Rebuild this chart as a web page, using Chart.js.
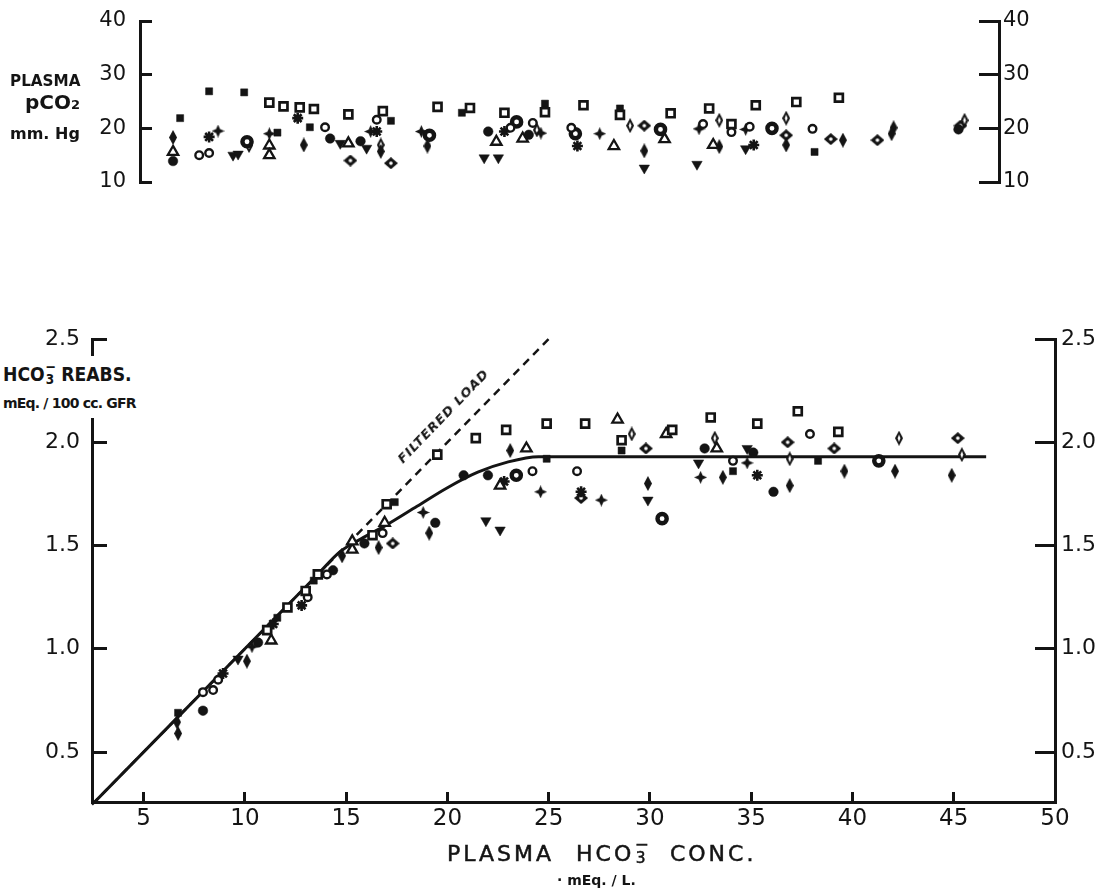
<!DOCTYPE html>
<html>
<head>
<meta charset="utf-8">
<script src="https://cdn.jsdelivr.net/npm/chart.js@4.4.1/dist/chart.umd.min.js"></script>
<style>
html,body{margin:0;padding:0;background:#fff;}
body{width:1098px;height:893px;position:relative;overflow:hidden;font-family:"DejaVu Sans","Liberation Sans",sans-serif;color:#141414;}
#c1{position:absolute;left:0;top:0;}
#c2{position:absolute;left:0;top:300px;}
.lbl{position:absolute;white-space:nowrap;font-weight:bold;line-height:1;}
.ss{display:inline-block;position:relative;width:0.62em;height:1em;vertical-align:baseline;}
.ss .sp{position:absolute;left:0.05em;top:-0.1em;font-size:0.75em;}
.ss .sb{position:absolute;left:0.1em;top:0.78em;font-size:0.7em;}
</style>
</head>
<body>
<canvas id="c1" width="1098" height="210"></canvas>
<canvas id="c2" width="1098" height="593"></canvas>

<div class="lbl" style="left:10px;top:73px;font-size:16px;transform:scaleX(0.95);transform-origin:left top;">PLASMA</div>
<div class="lbl" style="left:25px;top:92px;font-size:20px;">pCO<span style="font-size:13px;">2</span></div>
<div class="lbl" style="left:10px;top:126px;font-size:16px;">mm. Hg</div>

<div style="position:absolute;left:0;top:356px;width:178px;height:62px;background:#fff;"></div>
<div class="lbl" style="left:3px;top:361px;font-size:20px;transform:scaleX(0.86);transform-origin:left top;">HCO<span class="ss"><span class="sp">−</span><span class="sb">3</span></span>&nbsp;REABS.</div>
<div class="lbl" style="left:3px;top:396px;font-size:14px;letter-spacing:-0.8px;">mEq. / 100 cc. GFR</div>

<div class="lbl" style="left:443px;top:416px;font-size:13px;font-style:italic;letter-spacing:1px;transform:translate(-50%,-50%) rotate(-46deg);">FILTERED LOAD</div>

<div class="lbl" style="left:447px;top:839px;font-size:22px;font-weight:normal;letter-spacing:3px;word-spacing:12px;-webkit-text-stroke:0.5px #141414;">PLASMA HCO<span class="ss"><span class="sp">−</span><span class="sb">3</span></span> CONC.</div>
<div class="lbl" style="left:557px;top:873px;font-size:14px;">· mEq. / L.</div>

<script>
// ---------- tick values ----------
const hco3Ticks = [5, 10, 15, 20, 25, 30, 35, 40, 45, 50];
const reabsTicks = [0.5, 1.0, 1.5, 2.0, 2.5];
const reabsTickLabels = ['0.5', '1.0', '1.5', '2.0', '2.5'];
const pco2Ticks = [10, 20, 30, 40];
const pco2TickLabels = ['10', '20', '30', '40'];

// ---------- bottom panel: HCO3 reabsorption (mEq/100 cc GFR) vs plasma HCO3 ----------
const reabsOpenSquare = [[11.1,1.09],[12.1,1.20],[13.0,1.28],[13.6,1.36],[16.3,1.55],[17.0,1.70],[19.5,1.94],[21.4,2.02],[22.9,2.06],[24.9,2.09],[26.8,2.09],[28.6,2.01],[31.1,2.06],[33.0,2.12],[35.3,2.09],[37.3,2.15],[39.3,2.05]];
const reabsFilledSquare = [[6.7,0.69],[11.6,1.15],[13.4,1.33],[17.4,1.71],[24.9,1.92],[28.6,1.96],[34.1,1.86],[38.3,1.91]];
const reabsOpenCircle = [[7.93,0.79],[8.43,0.80],[8.68,0.85],[13.1,1.25],[14.05,1.36],[16.8,1.56],[24.2,1.86],[26.4,1.86],[34.1,1.91],[37.9,2.04]];
const reabsFilledCircle = [[7.93,0.70],[10.65,1.03],[14.35,1.38],[15.9,1.51],[19.4,1.61],[20.8,1.84],[22.0,1.84],[32.7,1.97],[35.1,1.95],[36.1,1.76]];
const reabsRingDot = [[23.4,1.84],[30.6,1.63],[41.3,1.91]];
const reabsOpenTriangle = [[11.3,1.04],[15.3,1.48],[15.3,1.52],[16.9,1.61],[22.6,1.79],[23.9,1.97],[28.4,2.11],[30.8,2.04],[33.3,1.97]];
const reabsTriangleDown = [[9.66,0.95],[21.9,1.62],[22.6,1.575],[29.9,1.72],[32.4,1.90],[34.8,1.97]];
const reabsPlus = [[10.35,1.01],[18.8,1.66],[24.6,1.76],[27.6,1.72],[32.5,1.83],[34.8,1.90]];
const reabsStar = [[8.92,0.88],[11.4,1.12],[12.8,1.21],[22.8,1.81],[26.6,1.76],[35.3,1.84]];
const reabsLozenge = [[6.65,0.645],[6.7,0.59],[10.1,0.94],[14.8,1.45],[16.6,1.49],[19.1,1.56],[23.1,1.96],[29.9,1.80],[33.6,1.83],[36.9,1.79],[39.6,1.86],[42.1,1.86],[44.9,1.84]];
const reabsOpenLozenge = [[29.1,2.04],[33.2,2.02],[36.9,1.92],[42.3,2.02],[45.4,1.94]];
const reabsDiamondDot = [[17.3,1.51],[26.6,1.73],[29.8,1.97],[36.8,2.00],[39.1,1.97],[45.2,2.02]];

// titration curve (solid) and filtered load (dashed)
const reabsCurveX = [2.45, 6.0, 10.0, 13.5, 14.7, 15.6, 17.0, 18.5, 20.0, 21.5, 23.0, 24.5, 46.6];
const reabsCurveY = [0.245, 0.60, 1.00, 1.35, 1.47, 1.525, 1.60, 1.69, 1.78, 1.855, 1.905, 1.93, 1.93];
const filteredLoadX = [2.45, 25.0];
const filteredLoadY = [0.245, 2.5];

// ---------- top panel: plasma pCO2 (mm Hg) vs plasma HCO3 ----------
const pco2OpenSquare = [[11.2,24.8],[11.9,24.1],[12.7,23.9],[13.4,23.6],[15.1,22.6],[16.8,23.2],[19.5,24.0],[21.1,23.8],[22.8,22.9],[24.8,23.0],[26.7,24.3],[28.5,22.5],[31.0,22.8],[32.9,23.7],[34.0,20.8],[35.2,24.3],[37.2,24.9],[39.3,25.7]];
const pco2FilledSquare = [[6.8,21.9],[8.23,26.9],[9.96,26.7],[11.6,19.2],[13.2,20.2],[17.2,21.4],[20.7,22.9],[24.8,24.6],[28.5,23.7],[38.1,15.6]];
const pco2OpenCircle = [[7.74,15.0],[8.23,15.4],[13.95,20.2],[16.5,21.6],[23.1,20.1],[24.2,21.0],[26.1,20.1],[32.6,20.8],[34.9,20.3],[38.0,19.9],[34.0,19.3]];
const pco2FilledCircle = [[6.45,13.9],[14.2,18.1],[15.7,17.6],[22.0,19.4],[24.0,18.8],[45.2,19.8]];
const pco2RingDot = [[10.1,17.5],[19.1,18.7],[23.4,21.2],[26.3,19.0],[30.5,19.8],[36.0,20.0]];
const pco2OpenTriangle = [[6.45,15.6],[11.2,16.8],[11.2,15.0],[15.1,17.2],[22.4,17.5],[23.7,18.1],[28.2,16.7],[30.7,18.0],[33.1,16.9]];
const pco2TriangleDown = [[9.41,15.0],[9.66,15.2],[14.7,17.2],[16.0,16.3],[21.8,14.5],[22.5,14.5],[29.7,12.6],[32.3,13.3],[34.7,16.2]];
const pco2Plus = [[8.67,19.5],[11.2,19.0],[16.2,19.4],[18.7,19.4],[24.6,19.1],[27.5,19.0],[32.4,19.9],[34.7,19.8]];
const pco2Star = [[8.23,18.4],[12.6,21.9],[16.5,19.4],[22.8,19.4],[26.4,16.7],[35.1,16.9]];
const pco2Lozenge = [[6.45,18.3],[12.9,16.9],[16.7,15.7],[19.0,16.7],[29.7,15.8],[33.4,16.6],[36.7,16.9],[39.5,17.8],[42.0,20.1],[41.9,19.0]];
const pco2OpenLozenge = [[10.2,16.8],[16.7,16.9],[24.4,19.7],[29.0,20.5],[33.4,21.5],[36.7,21.9],[45.5,21.5]];
const pco2DiamondDot = [[15.2,14.0],[17.2,13.5],[29.7,20.5],[36.7,18.7],[38.9,18.0],[41.2,17.8],[45.3,20.5]];

// ---------- styling ----------
const INK = '#141414';
const FONT = '"DejaVu Sans", "Liberation Sans", sans-serif';

function makeMark(w, h, draw) {
  const c = document.createElement('canvas');
  c.width = w; c.height = h;
  const g = c.getContext('2d');
  g.fillStyle = INK; g.strokeStyle = INK;
  draw(g, w, h);
  return c;
}
function lozPath(g, cx, cy, hw, hh) {
  g.beginPath();
  g.moveTo(cx, cy - hh); g.lineTo(cx + hw, cy); g.lineTo(cx, cy + hh); g.lineTo(cx - hw, cy);
  g.closePath();
}
const lozengeMark = makeMark(8, 15, (g, w, h) => { lozPath(g, w/2, h/2, w/2, h/2); g.fill(); });
const openLozengeMark = makeMark(8, 15, (g, w, h) => {
  lozPath(g, w/2, h/2, w/2, h/2); g.fill();
  g.fillStyle = '#fff'; lozPath(g, w/2, h/2, 1.4, 3.8); g.fill();
});
const diamondDotMark = makeMark(14, 12, (g, w, h) => {
  lozPath(g, w/2, h/2, w/2, h/2); g.fill();
  g.fillStyle = '#fff'; g.beginPath(); g.arc(w/2, h/2, 1.8, 0, Math.PI*2); g.fill();
});
const plusMark = makeMark(13, 13, (g, w, h) => {
  const c = w/2, p = 2.0;
  g.beginPath();
  g.moveTo(c, 0); g.lineTo(c + p, c - p); g.lineTo(w, c); g.lineTo(c + p, c + p);
  g.lineTo(c, h); g.lineTo(c - p, c + p); g.lineTo(0, c); g.lineTo(c - p, c - p);
  g.closePath(); g.fill();
});

const MARKS = {
  openSquare:   {pointStyle: 'rect', pointRadius: 5.6, pointBackgroundColor: '#fff', pointBorderWidth: 2.7},
  filledSquare: {pointStyle: 'rect', pointRadius: 5.0, pointBackgroundColor: INK, pointBorderWidth: 0.5},
  openCircle:   {pointStyle: 'circle', pointRadius: 3.8, pointBackgroundColor: '#fff', pointBorderWidth: 2.4},
  filledCircle: {pointStyle: 'circle', pointRadius: 4.8, pointBackgroundColor: INK, pointBorderWidth: 0.5},
  ringDot:      {pointStyle: 'circle', pointRadius: 4.6, pointBackgroundColor: '#fff', pointBorderWidth: 4.4},
  openTriangle: {pointStyle: 'triangle', pointRadius: 6, pointBackgroundColor: '#fff', pointBorderWidth: 2.3},
  triangleDown: {pointStyle: 'triangle', pointRadius: 6, pointRotation: 180, pointBackgroundColor: INK, pointBorderWidth: 0.5},
  plus:         {pointStyle: plusMark, pointRadius: 6},
  star:         {pointStyle: 'star', pointRadius: 5.5, pointBorderWidth: 2.6, pointBackgroundColor: INK},
  lozenge:      {pointStyle: lozengeMark, pointRadius: 6},
  openLozenge:  {pointStyle: openLozengeMark, pointRadius: 6},
  diamondDot:   {pointStyle: diamondDotMark, pointRadius: 6}
};

function pointSet(label, pairs, mark, axisId) {
  return Object.assign({
    label: label,
    data: pairs.map(p => ({x: p[0], y: p[1]})),
    showLine: false,
    pointBorderColor: INK,
    yAxisID: axisId
  }, MARKS[mark]);
}
function zip(xs, ys) { return xs.map((x, i) => ({x: x, y: ys[i]})); }

function yAxis(pos, min, max, values, labels, width, tickLen, pad, size) {
  return {
    type: 'linear', position: pos, min: min, max: max,
    afterFit(s) { s.width = width; s.paddingTop = 0; s.paddingBottom = 0; },
    afterBuildTicks(s) { s.ticks = values.map(v => ({value: v})); },
    border: {display: true, width: 3, color: INK},
    grid: {drawOnChartArea: false, drawTicks: true, tickLength: tickLen, tickWidth: 3, tickColor: INK},
    ticks: {padding: pad, color: INK, font: {family: FONT, size: size},
            callback: v => labels[values.indexOf(v)]}
  };
}

// ---------- bottom chart ----------
new Chart(document.getElementById('c2'), {
  type: 'scatter',
  data: {
    datasets: [
      pointSet('open square', reabsOpenSquare, 'openSquare', 'y'),
      pointSet('filled square', reabsFilledSquare, 'filledSquare', 'y'),
      pointSet('open circle', reabsOpenCircle, 'openCircle', 'y'),
      pointSet('filled circle', reabsFilledCircle, 'filledCircle', 'y'),
      pointSet('ring', reabsRingDot, 'ringDot', 'y'),
      pointSet('open triangle', reabsOpenTriangle, 'openTriangle', 'y'),
      pointSet('triangle down', reabsTriangleDown, 'triangleDown', 'y'),
      pointSet('plus', reabsPlus, 'plus', 'y'),
      pointSet('star', reabsStar, 'star', 'y'),
      pointSet('lozenge', reabsLozenge, 'lozenge', 'y'),
      pointSet('open lozenge', reabsOpenLozenge, 'openLozenge', 'y'),
      pointSet('diamond dot', reabsDiamondDot, 'diamondDot', 'y'),
      {label: 'Tm curve', data: zip(reabsCurveX, reabsCurveY), showLine: true, borderColor: INK, borderWidth: 3,
       pointRadius: 0, cubicInterpolationMode: 'monotone', yAxisID: 'y'},
      {label: 'Filtered load', data: zip(filteredLoadX, filteredLoadY), showLine: true, borderColor: INK, borderWidth: 2.5,
       borderDash: [8, 6], pointRadius: 0, yAxisID: 'y', clip: false}
    ]
  },
  options: {
    responsive: false, animation: false, events: [],
    layout: {padding: {top: 39, bottom: 0, left: 0, right: 0}},
    plugins: {legend: {display: false}, tooltip: {enabled: false}},
    scales: {
      x: {
        type: 'linear', position: 'bottom', min: 2.45, max: 50,
        afterFit(s) { s.height = 91; s.paddingLeft = 0; s.paddingRight = 0; },
        afterBuildTicks(s) { s.ticks = hco3Ticks.map(v => ({value: v})); },
        border: {display: true, width: 3, color: INK},
        grid: {drawOnChartArea: false, drawTicks: true, tickLength: -10, tickWidth: 3, tickColor: INK},
        ticks: {padding: 13, color: INK, font: {family: FONT, size: 23}, maxRotation: 0, autoSkip: false,
                callback: v => String(v)}
      },
      y: yAxis('left', 0.258, 2.5, reabsTicks, reabsTickLabels, 92, -15, 27, 22),
      y2: yAxis('right', 0.258, 2.5, reabsTicks, reabsTickLabels, 43, -20, 26, 22)
    }
  }
});

// ---------- top chart ----------
new Chart(document.getElementById('c1'), {
  type: 'scatter',
  data: {
    datasets: [
      pointSet('open square', pco2OpenSquare, 'openSquare', 'y'),
      pointSet('filled square', pco2FilledSquare, 'filledSquare', 'y'),
      pointSet('open circle', pco2OpenCircle, 'openCircle', 'y'),
      pointSet('filled circle', pco2FilledCircle, 'filledCircle', 'y'),
      pointSet('ring', pco2RingDot, 'ringDot', 'y'),
      pointSet('open triangle', pco2OpenTriangle, 'openTriangle', 'y'),
      pointSet('triangle down', pco2TriangleDown, 'triangleDown', 'y'),
      pointSet('plus', pco2Plus, 'plus', 'y'),
      pointSet('star', pco2Star, 'star', 'y'),
      pointSet('lozenge', pco2Lozenge, 'lozenge', 'y'),
      pointSet('open lozenge', pco2OpenLozenge, 'openLozenge', 'y'),
      pointSet('diamond dot', pco2DiamondDot, 'diamondDot', 'y')
    ]
  },
  options: {
    responsive: false, animation: false, events: [],
    layout: {padding: {top: 21, bottom: 28, left: 0, right: 0}},
    plugins: {legend: {display: false}, tooltip: {enabled: false}},
    scales: {
      x: {type: 'linear', display: false, min: 4.82, max: 47.2},
      y: yAxis('left', 10, 40, pco2Ticks, pco2TickLabels, 140, -12, 26, 21),
      y2: yAxis('right', 10, 40, pco2Ticks, pco2TickLabels, 99, -20, 24, 21)
    }
  }
});
</script>
</body>
</html>
